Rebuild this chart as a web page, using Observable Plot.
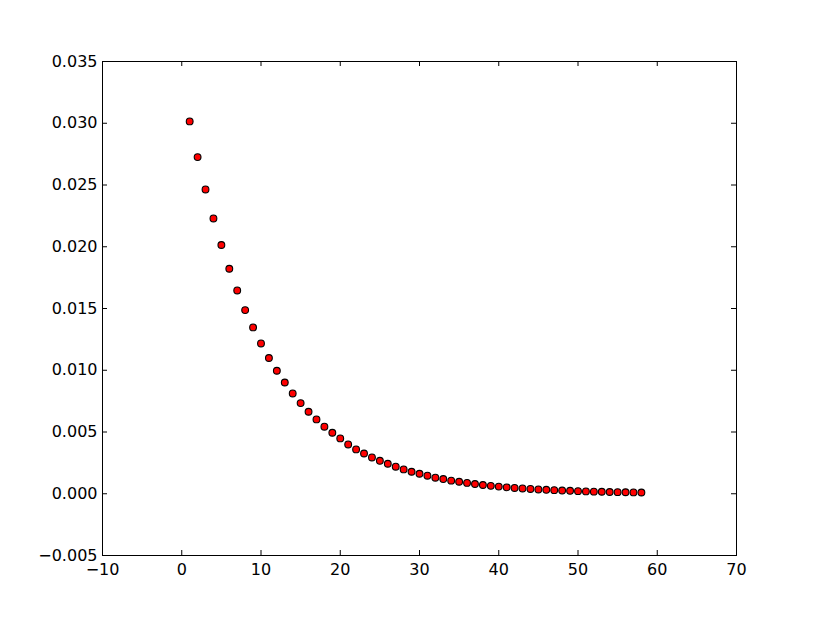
<!DOCTYPE html>
<html>
<head>
<meta charset="utf-8">
<script src="https://cdn.jsdelivr.net/npm/d3@7"></script>
<script src="https://cdn.jsdelivr.net/npm/@observablehq/plot@0.6"></script>
<style>
  html, body { margin: 0; padding: 0; background: #fff; }
  svg { display: block; }
</style>
</head>
<body>
<div id="chart"></div>
<script>
const xs = d3.range(1, 59);
const ys = [
  0.03015, 0.02726, 0.02464, 0.02229, 0.02014, 0.01822, 0.01646, 0.01487, 0.01347, 0.01217,
  0.01099, 0.00996, 0.00901, 0.00812, 0.00734, 0.00664, 0.00602, 0.00543, 0.00494, 0.00448,
  0.00399, 0.00359, 0.00326, 0.00294, 0.00267, 0.00243, 0.00219, 0.00197, 0.00178, 0.00162,
  0.00146, 0.00130, 0.00119, 0.00106, 0.00097, 0.00088, 0.00079, 0.00071, 0.00064, 0.00058,
  0.00052, 0.00047, 0.00043, 0.00039, 0.00035, 0.00032, 0.00029, 0.00026, 0.00024, 0.00021,
  0.00019, 0.00017, 0.00016, 0.00014, 0.00013, 0.00012, 0.00011, 0.00010
];
const xTicks = [-10, 0, 10, 20, 30, 40, 50, 60, 70];
const yTicks = [-0.005, 0.000, 0.005, 0.010, 0.015, 0.020, 0.025, 0.030, 0.035];

const data = xs.map((x, i) => ({x, y: ys[i]}));

const W = 817, H = 617;
const mL = 102, mR = 81, mT = 61, mB = 62;
const innerW = W - mL - mR, innerH = H - mT - mB;
const tl = 5;
const fmtX = d => d < 0 ? "\u2212" + Math.abs(d) : String(d);
const fmtY = d => d < 0 ? "\u2212" + Math.abs(d).toFixed(3) : d.toFixed(3);

const chart = Plot.plot({
  width: W,
  height: H,
  marginLeft: mL,
  marginRight: mR,
  marginTop: mT,
  marginBottom: mB,
  style: {fontFamily: "DejaVu Sans", fontSize: "16px", color: "black", background: "white"},
  x: {domain: [-10, 70], ticks: xTicks, tickFormat: fmtX},
  y: {domain: [-0.005, 0.035], ticks: yTicks, tickFormat: fmtY},
  marks: [
    Plot.axisX(xTicks, {anchor: "bottom", tickSize: 0, tickPadding: 8, tickFormat: fmtX, fontSize: 16, fill: "black", label: null}),
    Plot.axisY(yTicks, {anchor: "left", tickSize: 0, tickPadding: 5, tickFormat: fmtY, fontSize: 16, fill: "black", label: null}),
    // inward ticks on all four sides
    Plot.ruleX(xTicks, {x: d => d, insetTop: innerH - tl, stroke: "black"}),
    Plot.ruleX(xTicks, {x: d => d, insetBottom: innerH - tl, stroke: "black"}),
    Plot.ruleY(yTicks, {y: d => d, insetRight: innerW - tl, stroke: "black"}),
    Plot.ruleY(yTicks, {y: d => d, insetLeft: innerW - tl, stroke: "black"}),
    Plot.dot(data, {x: "x", y: "y", r: 3.4, fill: "red", stroke: "black", strokeWidth: 1.1}),
    Plot.frame({stroke: "black", strokeWidth: 1})
  ]
});
document.getElementById("chart").appendChild(chart);
</script>
</body>
</html>
